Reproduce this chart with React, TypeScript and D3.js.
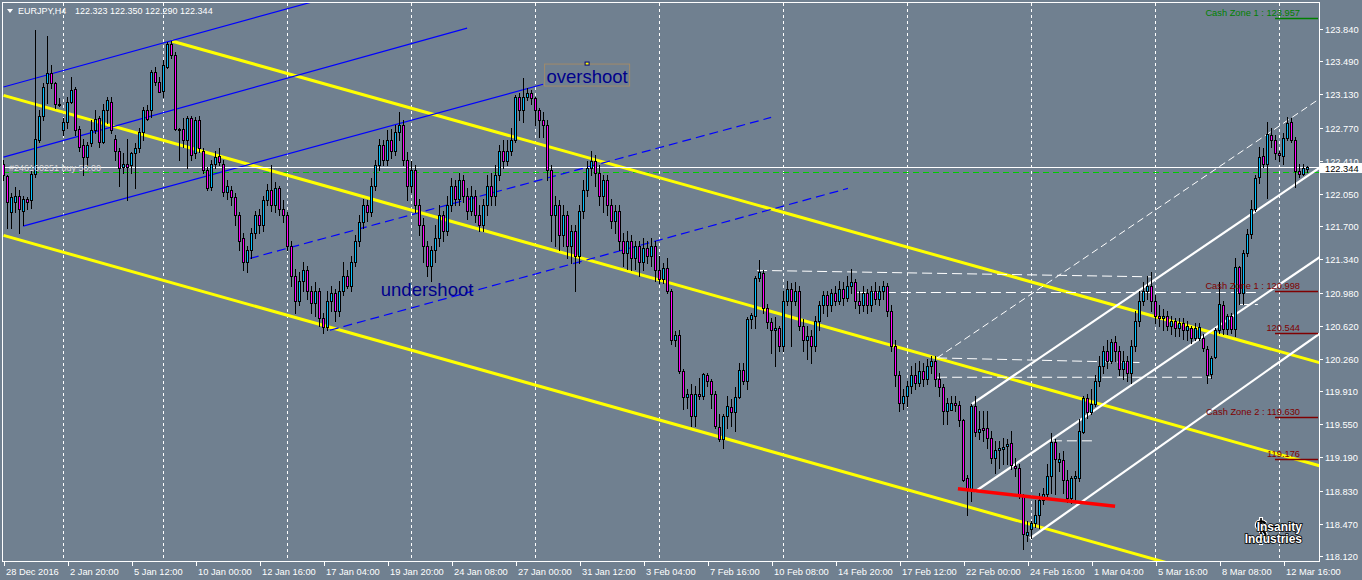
import React from "react";
import * as d3 from "d3";

type C = [number, number, number, number]; // open, high, low, close

const week0: C[] = [
  [122.38,122.42,122.20,122.25],[122.24,122.26,121.68,121.96],[121.85,122.06,121.68,122.02],[121.96,122.12,121.85,122.03],
  [122.03,122.09,121.63,121.89],[121.87,122.03,121.71,122.00],[122.00,122.02,121.89,121.96],[121.98,122.34,121.90,122.27],
  [122.27,123.83,122.23,122.65],[122.64,122.96,122.61,122.90],[122.90,123.25,122.85,123.21],[123.25,123.76,123.04,123.36],
  [123.36,123.45,123.20,123.25],[123.25,123.26,122.98,123.03],[123.03,123.09,123.00,123.02],
];
const week1: C[] = [
  [122.74,122.87,122.69,122.83],[122.83,123.10,122.77,123.05],[123.05,123.32,123.04,123.18],[123.19,123.21,122.69,122.74],
  [122.76,122.79,122.52,122.56],[122.58,122.65,122.25,122.45],[122.45,122.61,122.34,122.58],[122.60,122.85,122.57,122.74],
  [122.74,122.96,122.71,122.86],[122.87,122.90,122.56,122.61],[122.61,123.03,122.60,122.96],[122.96,123.10,122.82,123.07],
  [123.05,123.10,122.71,122.74],[122.65,122.69,122.42,122.52],[122.52,122.55,122.14,122.33],[122.34,122.49,122.28,122.38],
  [122.38,122.65,121.98,122.34],[122.36,122.50,122.28,122.49],[122.49,122.60,122.11,122.55],[122.55,122.77,122.50,122.72],
  [122.72,122.99,122.63,122.96],[122.96,123.01,122.85,122.86],[122.96,123.39,122.88,123.37],[123.37,123.43,123.23,123.26],
  [123.26,123.32,123.16,123.16],
];
const week2: C[] = [
  [123.17,123.50,123.10,123.45],[123.43,123.70,123.42,123.68],[123.68,123.71,123.52,123.56],[123.56,123.59,122.74,122.76],
  [122.76,122.77,122.42,122.75],[122.76,122.87,122.56,122.63],[122.63,122.90,122.33,122.87],[122.87,122.90,122.42,122.47],
  [122.49,122.88,122.44,122.85],[122.85,122.90,122.50,122.55],[122.52,122.55,122.28,122.31],[122.31,122.34,122.09,122.11],
  [122.13,122.42,122.09,122.38],[122.38,122.52,122.33,122.45],[122.46,122.55,122.36,122.40],[122.38,122.42,122.03,122.07],
  [122.07,122.20,122.00,122.14],[122.09,122.14,121.93,122.02],[122.02,122.06,121.71,121.82],[121.82,121.85,121.44,121.54],
  [121.57,121.63,121.22,121.31],[121.31,121.49,121.20,121.44],[121.44,121.68,121.35,121.63],[121.63,121.87,121.57,121.82],
  [121.82,121.89,121.63,121.71],[121.71,122.03,121.65,121.98],[121.98,122.16,121.93,122.09],[122.09,122.36,121.87,121.93],
  [121.93,122.18,121.85,122.11],[122.11,122.14,121.82,121.89],[121.89,121.98,121.74,121.82],
];
const week3: C[] = [
  [121.82,121.85,121.44,121.49],[121.49,121.54,121.05,121.16],[121.16,121.24,120.76,120.89],[120.89,121.20,120.84,121.11],
  [121.11,121.31,121.00,121.22],[121.22,121.27,120.91,121.00],[121.00,121.05,120.76,120.87],[120.87,121.09,120.73,121.00],
  [121.00,121.03,120.62,120.70],[120.70,120.76,120.54,120.61],[120.61,121.00,120.57,120.89],[120.89,121.05,120.78,120.98],
  [120.98,121.02,120.67,120.78],[120.78,121.11,120.73,121.00],[121.00,121.31,120.95,121.16],[121.16,121.22,121.03,121.05],
  [121.05,121.38,121.00,121.31],[121.31,121.60,121.27,121.54],[121.54,121.82,121.49,121.74],[121.74,122.00,121.68,121.93],
  [121.93,121.98,121.76,121.85],[121.85,122.22,121.81,122.14],[122.14,122.42,122.09,122.36],[122.36,122.65,122.31,122.58],
  [122.58,122.63,122.36,122.42],[122.42,122.74,122.36,122.63],[122.63,122.76,122.44,122.52],[122.52,122.80,122.47,122.72],
  [122.72,122.94,122.63,122.80],[122.80,122.85,122.36,122.42],[122.42,122.50,121.98,122.14],
];
const week4: C[] = [
  [122.14,122.41,122.07,122.31],[122.31,122.36,121.85,121.93],[121.93,122.00,121.60,121.71],[121.71,121.79,121.31,121.49],
  [121.49,121.54,121.16,121.27],[121.27,121.49,121.11,121.44],[121.44,121.71,121.31,121.57],[121.57,121.93,121.49,121.82],
  [121.82,121.87,121.54,121.65],[121.65,122.03,121.60,121.93],[121.93,122.22,121.87,122.14],[122.14,122.20,121.93,122.00],
  [122.00,122.28,121.93,122.20],[122.20,122.25,121.96,122.03],[122.03,122.11,121.78,121.87],[121.87,122.14,121.82,122.03],
  [122.03,122.09,121.74,121.82],[121.82,121.93,121.65,121.71],[121.71,122.00,121.65,121.93],[121.93,122.25,121.82,122.14],
  [122.14,122.28,121.93,122.03],[122.03,122.36,121.93,122.25],[122.25,122.58,122.20,122.52],[122.52,122.63,122.33,122.41],
  [122.41,122.63,122.36,122.52],[122.52,122.77,122.47,122.63],[122.63,123.12,122.61,123.10],[123.10,123.14,122.85,122.96],
  [122.96,123.31,122.83,123.10],[123.10,123.20,123.07,123.14],[123.14,123.18,123.03,123.09],
];
const week5: C[] = [
  [123.09,123.10,122.80,122.96],[122.96,122.98,122.67,122.85],[122.85,122.94,122.67,122.80],[122.80,122.85,122.20,122.31],
  [122.31,122.36,121.54,121.82],[121.82,122.03,121.49,121.93],[121.93,121.98,121.44,121.60],[121.60,121.93,121.49,121.82],
  [121.82,121.87,121.35,121.49],[121.49,121.71,121.30,121.65],[121.65,121.71,121.00,121.38],[121.38,121.93,121.30,121.87],
  [121.87,122.20,121.79,122.09],[122.09,122.41,122.03,122.33],[122.33,122.52,122.25,122.41],[122.41,122.47,122.14,122.28],
  [122.28,122.36,121.93,122.03],[122.03,122.25,121.85,122.20],[122.20,122.25,121.82,121.93],[121.93,122.00,121.68,121.76],
  [121.76,121.93,121.63,121.87],[121.87,121.93,121.44,121.54],[121.54,121.63,121.27,121.41],[121.41,121.65,121.24,121.54],
  [121.54,121.60,121.22,121.35],[121.35,121.54,121.24,121.49],[121.49,121.54,121.16,121.31],[121.31,121.57,121.22,121.46],
  [121.46,121.54,121.30,121.38],[121.38,121.57,121.27,121.49],[121.49,121.54,121.11,121.22],
];
const week6: C[] = [
  [121.22,121.38,121.08,121.13],[121.13,121.30,121.08,121.25],[121.25,121.35,120.98,121.00],[121.00,121.02,120.42,120.46],
  [120.46,120.56,120.40,120.52],[120.52,120.57,120.11,120.13],[120.13,120.15,119.72,119.85],[119.85,119.93,119.73,119.88],
  [119.88,119.99,119.53,119.64],[119.64,119.97,119.53,119.88],[119.88,120.05,119.82,119.86],[119.86,120.11,119.82,120.09],
  [120.08,120.11,119.97,120.02],[120.02,120.04,119.73,119.88],[119.88,119.91,119.51,119.53],[119.52,119.66,119.37,119.39],
  [119.39,119.66,119.29,119.64],[119.64,119.86,119.51,119.75],[119.74,119.82,119.53,119.68],[119.68,119.95,119.48,119.85],
  [119.85,120.21,119.84,120.14],[120.14,120.21,119.99,120.02],[120.02,120.71,119.93,120.69],[120.69,120.76,120.59,120.74],
  [120.73,121.16,120.59,121.14],[121.14,121.33,121.10,121.20],[121.19,121.22,120.76,120.81],[120.81,120.86,120.59,120.66],
  [120.66,120.70,120.32,120.57],[120.57,120.71,120.18,120.59],[120.59,120.62,120.35,120.40],
];
const week7: C[] = [
  [120.40,121.00,120.35,120.89],[120.89,121.11,120.84,121.02],[121.02,121.08,120.40,120.89],[120.89,121.09,120.84,121.00],
  [121.00,121.05,120.57,120.62],[120.62,120.69,120.35,120.46],[120.46,120.62,120.26,120.51],[120.51,120.57,120.22,120.40],
  [120.40,120.73,120.35,120.67],[120.67,120.89,120.57,120.84],[120.84,121.00,120.76,120.95],[120.95,121.00,120.73,120.84],
  [120.84,121.02,120.78,120.98],[120.98,121.05,120.84,120.89],[120.89,121.11,120.86,121.02],[121.02,121.09,120.84,120.92],
  [120.92,121.16,120.89,121.05],[121.05,121.24,120.98,121.09],[121.09,121.13,120.81,120.89],[120.89,121.00,120.76,120.84],
  [120.84,121.05,120.78,120.98],[120.98,121.02,120.76,120.84],[120.84,121.05,120.78,121.00],[121.00,121.09,120.85,120.91],
  [120.91,121.05,120.84,121.00],[121.00,121.11,120.91,121.05],[121.05,121.08,120.73,120.78],[120.78,120.84,120.35,120.40],
  [120.40,120.46,119.97,120.08],[120.08,120.13,119.69,119.78],[119.78,119.93,119.72,119.86],
];
const week8: C[] = [
  [119.86,120.02,119.75,119.97],[119.97,120.18,119.89,120.08],[120.08,120.21,119.93,120.00],[120.00,120.24,119.97,120.13],
  [120.13,120.21,119.97,120.04],[120.04,120.26,119.99,120.18],[120.18,120.29,120.11,120.24],[120.24,120.29,119.97,120.04],
  [120.04,120.11,119.86,119.95],[119.95,119.99,119.55,119.69],[119.69,119.84,119.55,119.78],[119.71,119.86,119.70,119.78],
  [119.78,119.86,119.69,119.76],[119.76,119.80,119.53,119.60],[119.60,119.61,118.93,118.94],[118.97,119.00,118.57,118.84],
  [118.84,119.77,118.72,119.75],[119.75,119.86,119.42,119.47],[119.47,119.69,119.39,119.50],[119.51,119.69,119.37,119.49],
  [119.51,119.69,119.29,119.40],[119.40,119.48,119.13,119.18],[119.18,119.37,119.02,119.27],[119.27,119.37,119.07,119.29],
  [119.28,119.40,119.12,119.30],[119.31,119.39,119.12,119.34],[119.35,119.48,119.06,119.11],[119.10,119.18,118.99,119.07],
  [119.07,119.12,118.75,118.77],[118.77,118.79,118.20,118.36],[118.35,118.50,118.28,118.38],
];
const week9: C[] = [
  [118.41,118.50,118.31,118.48],[118.48,118.73,118.44,118.57],[118.57,118.80,118.42,118.73],[118.73,118.86,118.68,118.79],
  [118.79,119.12,118.75,118.99],[118.99,119.46,118.80,119.36],[119.36,119.39,118.79,119.17],[119.14,119.24,119.04,119.17],
  [119.16,119.26,118.80,118.95],[118.95,119.05,118.71,118.75],[118.75,118.99,118.69,118.97],[118.97,119.04,118.71,118.99],
  [118.97,119.61,118.93,119.48],[119.47,119.86,119.45,119.84],[119.84,119.88,119.62,119.68],[119.68,119.93,119.66,119.77],
  [119.77,120.08,119.75,120.02],[120.02,120.29,119.97,120.18],[120.18,120.40,120.11,120.35],[120.35,120.46,120.16,120.24],
  [120.24,120.48,120.21,120.44],[120.44,120.51,120.24,120.35],[120.35,120.40,120.08,120.15],[120.15,120.35,120.04,120.24],
  [120.24,120.29,120.02,120.11],[120.11,120.46,120.00,120.40],[120.40,120.78,120.35,120.67],[120.67,121.00,120.62,120.89],
  [120.89,121.09,120.84,121.00],[121.00,121.16,120.91,121.05],[121.05,121.20,120.78,120.89],
];
const week10: C[] = [
  [120.89,120.95,120.65,120.73],[120.73,120.84,120.62,120.70],[120.70,120.80,120.57,120.73],[120.73,120.78,120.57,120.62],
  [120.62,120.73,120.53,120.67],[120.67,120.70,120.51,120.59],[120.59,120.70,120.51,120.65],[120.65,120.70,120.48,120.57],
  [120.57,120.67,120.46,120.62],[120.59,120.62,120.43,120.49],[120.49,120.65,120.46,120.60],[120.49,120.65,120.46,120.61],
  [120.49,120.53,120.35,120.38],[120.37,120.40,120.00,120.08],[120.09,120.29,120.05,120.27],[120.28,120.59,120.27,120.57],
  [120.57,121.09,120.54,120.85],[120.84,120.89,120.53,120.58],[120.58,120.75,120.53,120.73],[120.72,120.76,120.54,120.58],
  [120.58,121.35,120.51,121.26],[121.26,121.27,120.86,120.98],[120.98,121.44,120.86,121.41],[121.41,121.67,121.38,121.62],
  [121.62,121.98,121.57,121.89],[121.89,122.25,121.87,122.22],[122.23,122.56,122.17,122.45],[122.46,122.55,122.34,122.38],
  [122.38,122.83,122.01,122.70],[122.69,122.77,122.56,122.63],[122.63,122.69,122.43,122.49],
];
const week11: C[] = [
  [122.49,122.52,122.41,122.47],[122.46,122.71,122.38,122.66],[122.66,122.88,122.63,122.82],[122.83,122.87,122.61,122.64],
  [122.64,122.67,122.12,122.30],[122.30,122.38,122.23,122.27],[122.27,122.38,122.25,122.33],[122.323,122.350,122.290,122.344],
];

const candles: C[] = [
  ...week0, ...week1, ...week2, ...week3, ...week4, ...week5,
  ...week6, ...week7, ...week8, ...week9, ...week10, ...week11,
];

const priceTicks = [123.84, 123.49, 123.13, 122.77, 122.41, 122.05, 121.7, 121.34, 120.98, 120.62, 120.26, 119.91, 119.55, 119.19, 118.83, 118.47, 118.12];
const timeLabels = [
  "28 Dec 2016", "2 Jan 20:00", "5 Jan 12:00", "10 Jan 00:00", "12 Jan 16:00", "17 Jan 04:00", "19 Jan 20:00",
  "24 Jan 08:00", "27 Jan 00:00", "31 Jan 12:00", "3 Feb 04:00", "7 Feb 16:00", "10 Feb 08:00", "14 Feb 20:00",
  "17 Feb 12:00", "22 Feb 00:00", "24 Feb 16:00", "1 Mar 04:00", "5 Mar 16:00", "8 Mar 08:00", "12 Mar 16:00",
];
const barsPerLabel = 16;
const weekStartBars = [15, 40, 71, 102, 133, 164, 195, 226, 257, 288, 319];

const symbol = "EURJPY,H4";
const lastOHLC = "122.323 122.350 122.290 122.344";
const bidPrice = 122.344;
const orderPrice = 122.285;
const orderLabel = "#246160251 buy 50.00";

type Seg = { a: [number, number]; b: [number, number]; ray?: boolean };
const blueChannel: Seg[] = [
  { a: [0, 123.21], b: [76, 124.12], ray: true },
  { a: [0, 122.45], b: [115.9, 123.85] },
  { a: [4.9, 121.70], b: [134.9, 123.24] },
];
const blueDashed: Seg[] = [
  { a: [61.6, 121.35], b: [191.9, 122.88] },
  { a: [81.6, 120.57], b: [211.1, 122.11] },
];
const yellowChannel: Seg[] = [
  { a: [42, 123.71], b: [328.9, 120.22], ray: true },
  { a: [0, 123.12], b: [328.9, 119.10], ray: true },
  { a: [0, 121.60], b: [288.1, 118.08], ray: true },
];
const whiteChannel: Seg[] = [
  { a: [242.1, 119.77], b: [328.9, 122.33], ray: true },
  { a: [242.9, 118.82], b: [328.9, 121.36], ray: true },
  { a: [256.6, 118.31], b: [328.9, 120.53], ray: true },
];
const whiteThinRay: Seg[] = [{ a: [233.4, 120.27], b: [328.9, 123.08], ray: true }];
const whiteLevels: Seg[] = [
  { a: [188.4, 121.22], b: [287.1, 121.15] },
  { a: [213.1, 120.98], b: [313.6, 120.98] },
  { a: [233.4, 120.27], b: [284, 120.22] },
  { a: [233.4, 120.06], b: [302, 120.06] },
  { a: [262.1, 119.37], b: [272.1, 119.37] },
  { a: [309.1, 120.85], b: [313.6, 120.85] },
];
const redLine: Seg = { a: [238.6, 118.85], b: [277.9, 118.66] };

const zonePrices = [123.957, 120.998, 120.544, 119.63, 119.176];
const zoneLabels = ["Cash Zone 1 : 123.957", "Cash Zone 1 : 120.998", "120.544", "Cash Zone 2 : 119.630", "119.176"];

const noteTexts = ["overshoot", "undershoot"];
const noteBars = [145.9, 105.9];
const notePrices = [123.34, 121.02];

const logoLines = ["Insanity", "Industries"];

const W = 1362;
const H = 580;
const P = { left: 3, top: 3, right: 1319, bottom: 561 };
const FONT = "'Liberation Sans', Arial, sans-serif";
const BG = "#708090";
const BULL = "#00bfff";
const BEAR = "#ff00ff";

export default function App() {
  const x = d3.scaleLinear().domain([0, 1]).range([3.5, 7.5]);
  const y = d3.scaleLinear().domain([118.12, 123.84]).range([556, 29]);

  const segPath = (s: Seg) => {
    let [b1, p1] = s.b;
    const [b0, p0] = s.a;
    if (s.ray) {
      const slope = (p1 - p0) / (b1 - b0);
      const bEnd = 345;
      p1 = p0 + slope * (bEnd - b0);
      b1 = bEnd;
    }
    return d3.line()([[x(b0), y(p0)], [x(b1), y(p1)]]) || "";
  };

  const yBid = y(bidPrice);
  const bidBoxTop = Math.round(yBid) - 4;

  const dollar = "M1265.5,523.5 C1263,520.5 1257,520.5 1257,525.5 C1257,530 1265.5,529.5 1265.5,535 C1265.5,540.5 1258.5,540.5 1256,537";

  return (
    <svg width={W} height={H} style={{ position: "fixed", left: 0, top: 0, display: "block", background: BG }} fontFamily={FONT}>
      <defs>
        <clipPath id="plotClip">
          <rect x={P.left} y={P.top} width={P.right - P.left} height={P.bottom - P.top} />
        </clipPath>
        <clipPath id="aboveBid">
          <rect x={P.right} y={0} width={W - P.right} height={bidBoxTop} />
        </clipPath>
      </defs>
      <rect x={0} y={0} width={W} height={H} fill={BG} />

      <g clipPath="url(#plotClip)">
        {weekStartBars.map((b) => (
          <line key={"g" + b} x1={x(b)} x2={x(b)} y1={P.top} y2={P.bottom} stroke="#fff" strokeWidth={1} strokeDasharray="3,3" />
        ))}

        <line x1={P.left} x2={P.right} y1={Math.round(y(orderPrice)) + 0.5} y2={Math.round(y(orderPrice)) + 0.5} stroke="#00cc00" strokeWidth={1} strokeDasharray="6,4" />

        {yellowChannel.map((s, i) => (
          <path key={"y" + i} d={segPath(s)} stroke="#ffff00" strokeWidth={3} fill="none" />
        ))}
        {blueChannel.map((s, i) => (
          <path key={"b" + i} d={segPath(s)} stroke="#0000ff" strokeWidth={1.2} fill="none" />
        ))}
        {blueDashed.map((s, i) => (
          <path key={"bd" + i} d={segPath(s)} stroke="#0000ff" strokeWidth={1.2} fill="none" strokeDasharray="9,5" />
        ))}
        {whiteChannel.map((s, i) => (
          <path key={"w" + i} d={segPath(s)} stroke="#ffffff" strokeWidth={2.2} fill="none" />
        ))}
        {whiteThinRay.map((s, i) => (
          <path key={"wr" + i} d={segPath(s)} stroke="#ffffff" strokeWidth={1} fill="none" strokeDasharray="7,4" />
        ))}
        {whiteLevels.map((s, i) => (
          <path key={"wl" + i} d={segPath(s)} stroke="#ffffff" strokeWidth={1} fill="none" strokeDasharray="10,5" />
        ))}

        <line x1={P.left} x2={P.right} y1={Math.round(yBid) + 0.5} y2={Math.round(yBid) + 0.5} stroke="#ffffff" strokeWidth={1} />

        {candles.map((c, i) => {
          const [o, h, l, cl] = c;
          const cx = x(i);
          const yo = y(o);
          const yc = y(cl);
          const top = Math.round(Math.min(yo, yc)) + 0.5;
          let bot = Math.round(Math.max(yo, yc)) + 0.5;
          if (bot - top < 1) bot = top + 1;
          return (
            <g key={"c" + i}>
              <line x1={cx} x2={cx} y1={Math.round(y(h))} y2={Math.round(y(l)) + 1} stroke="#000" strokeWidth={1} />
              <rect x={cx - 1} y={top} width={2} height={bot - top} fill={cl >= o ? BULL : BEAR} stroke="#000" strokeWidth={1} />
            </g>
          );
        })}

        <path d={segPath(redLine)} stroke="#ff0000" strokeWidth={3.5} fill="none" />

        {noteTexts.map((t, i) => {
          const nx = x(noteBars[i]);
          const ny = y(notePrices[i]);
          return (
            <g key={"n" + i}>
              {i === 0 && (
                <>
                  <rect x={nx - 42.5} y={ny - 11} width={85} height={22} fill="none" stroke="#a08a6a" strokeWidth={1} />
                  <rect x={nx - 2} y={ny - 13} width={4} height={3} fill="#ffff00" stroke="#000080" strokeWidth={1} />
                </>
              )}
              <text x={nx} y={ny + 7.5} textAnchor="middle" fontSize={18.5} fill="#00008b">
                {t}
              </text>
            </g>
          );
        })}

        {zonePrices.map((p, i) => {
          const yy = Math.round(y(p)) + 0.5;
          const col = i === 0 ? "#008000" : "#800000";
          return (
            <g key={"z" + i}>
              <line x1={1275} x2={1318} y1={yy} y2={yy} stroke={col} strokeWidth={1.5} />
              <text x={1300} y={yy - 2.5} textAnchor="end" fontSize={9.3} fill={col}>
                {zoneLabels[i]}
              </text>
            </g>
          );
        })}

        <text x={9} y={Math.round(yBid) + 3.5} fontSize={9} fill="#d8d8d8">
          {orderLabel}
        </text>

        <path d={dollar} fill="none" stroke="#ffffff" strokeWidth={4.5} />
        <line x1={1261} x2={1261} y1={517} y2={545} stroke="#ffffff" strokeWidth={4} />
        <path d={dollar} fill="none" stroke="#000000" strokeWidth={2.2} />
        <line x1={1261} x2={1261} y1={518} y2={544} stroke="#000000" strokeWidth={1.6} />
        <g fontFamily={FONT} fontSize={12} fontWeight="bold" fill="#ffffff" stroke="#000" strokeWidth={1.6} style={{ paintOrder: "stroke" }} textAnchor="end">
          <text x={1302} y={531}>{logoLines[0]}</text>
          <text x={1302} y={543}>{logoLines[1]}</text>
        </g>
      </g>

      {/* frame */}
      <rect x={P.left - 0.5} y={P.top - 0.5} width={P.right - P.left + 1} height={P.bottom - P.top + 1} fill="none" stroke="#ffffff" strokeWidth={1} />

      {/* header */}
      <path d="M7,9 L13,9 L10,13 Z" fill="#ffffff" />
      <text x={18} y={14} fontSize={9} fill="#ffffff">{symbol}</text>
      <text x={75} y={14} fontSize={9} fill="#ffffff">{lastOHLC}</text>

      {/* price axis */}
      {priceTicks.map((p) => {
        const yy = Math.round(y(p)) + 0.5;
        const hidden = Math.abs(y(p) - yBid) < 9;
        return (
          <g key={"pt" + p}>
            <line x1={P.right} x2={P.right + 4} y1={yy} y2={yy} stroke="#ffffff" strokeWidth={1} />
            <text x={1325} y={yy + 3.5} fontSize={9.3} fill="#ffffff" clipPath={hidden ? "url(#aboveBid)" : undefined}>
              {p.toFixed(3)}
            </text>
          </g>
        );
      })}
      <rect x={1320} y={bidBoxTop} width={42} height={10} fill="#ffffff" />
      <text x={1325} y={Math.round(yBid) + 4.5} fontSize={9.3} fill="#000000">
        {bidPrice.toFixed(3)}
      </text>

      {/* time axis */}
      {timeLabels.map((t, k) => {
        const xx = Math.round(x(k * barsPerLabel)) + 0.5;
        return (
          <g key={"tl" + k}>
            <line x1={xx} x2={xx} y1={P.bottom} y2={P.bottom + 5} stroke="#ffffff" strokeWidth={1} />
            <text x={xx + 1.5} y={575} fontSize={9.3} fill="#ffffff">
              {t}
            </text>
          </g>
        );
      })}
    </svg>
  );
}
